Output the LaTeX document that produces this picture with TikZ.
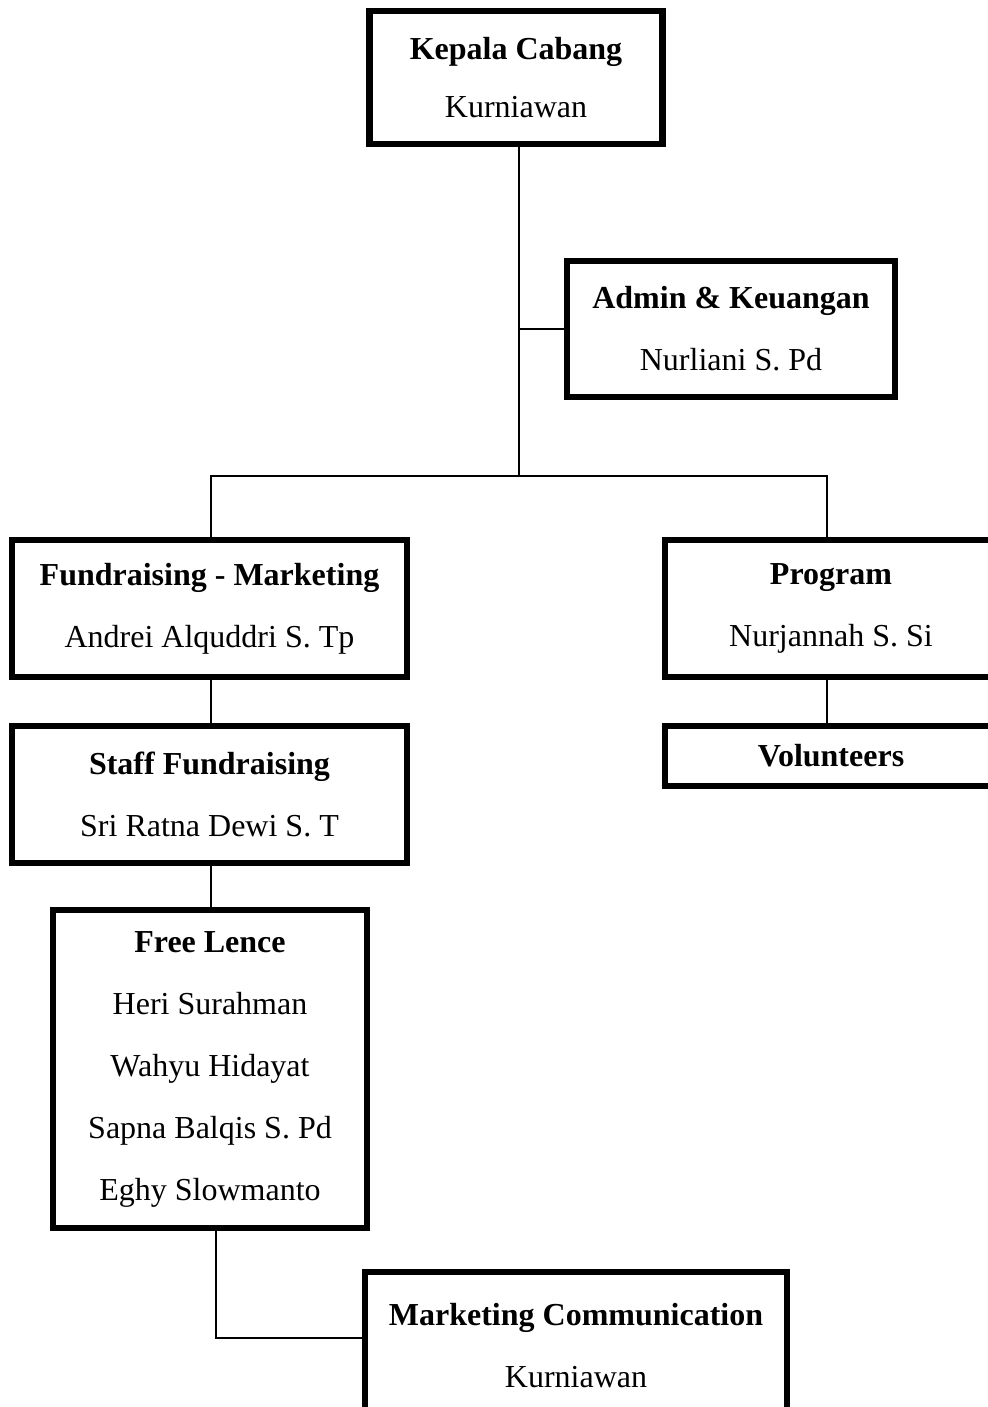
\documentclass[tikz,border=0pt]{standalone}
\usepackage{fontspec}
\setmainfont{Liberation Serif}
\usepackage{tikz}
\tikzset{every node/.style={draw, rectangle, line width=3.25pt, inner sep=0pt, align=center, font=\fontsize{16}{31}\selectfont}}
\newcommand{\jbt}[1]{\textbf{#1}}

\begin{document}
\begin{tikzpicture}[x=0.5pt, y=-0.5pt]
\useasboundingbox (0,0) rectangle (988,1407);

\node[minimum width=146.5pt, minimum height=66.5pt] (kepala) at (516,77.5) {\jbt{Kepala Cabang}\\[-2pt]Kurniawan};
\node[minimum width=164pt, minimum height=68pt] (admin) at (731,329) {\jbt{Admin \& Keuangan}\\Nurliani S. Pd};

\node[minimum width=197.5pt, minimum height=68.5pt] (fund) at (209.5,608.5) {\jbt{Fundraising - Marketing}\\Andrei Alquddri S. Tp};
\node[minimum width=166pt, minimum height=68.5pt] (program) at (831,608.5) {\jbt{Program}\\Nurjannah S. Si};

\node[minimum width=197.5pt, minimum height=68.5pt] (staff) at (209.5,794.5) {\jbt{Staff Fundraising}\\Sri Ratna Dewi S. T};
\node[minimum width=166pt, minimum height=30pt] (volunteers) at (831,756) {\jbt{Volunteers}};

\node[minimum width=157pt, minimum height=159pt] (freelence) at (210,1069) {\jbt{Free Lence}\\Heri Surahman\\Wahyu Hidayat\\Sapna Balqis S. Pd\\Eghy Slowmanto};
\node[minimum width=211pt, minimum height=74pt] (marcom) at (576,1346) {\jbt{Marketing Communication}\\Kurniawan};

\coordinate (hub) at (519,476);

\begin{scope}[line width=0.9pt]
\draw (kepala.south -| hub) -- (hub);
\draw (admin.west) -- (admin.west -| hub);
\draw ([xshift=0.75pt]fund.north) |- (hub) -| ([xshift=-2pt]program.north);
\draw ([xshift=0.75pt]fund.south) -- ([xshift=0.75pt]staff.north);
\draw ([xshift=0.75pt]staff.south) -- ([xshift=0.5pt]freelence.north);
\draw ([xshift=-2pt]program.south) -- ([xshift=-2pt]volunteers.north);
\draw ([xshift=3pt]freelence.south) |- ([yshift=4pt]marcom.west);
\end{scope}

\end{tikzpicture}
\end{document}
